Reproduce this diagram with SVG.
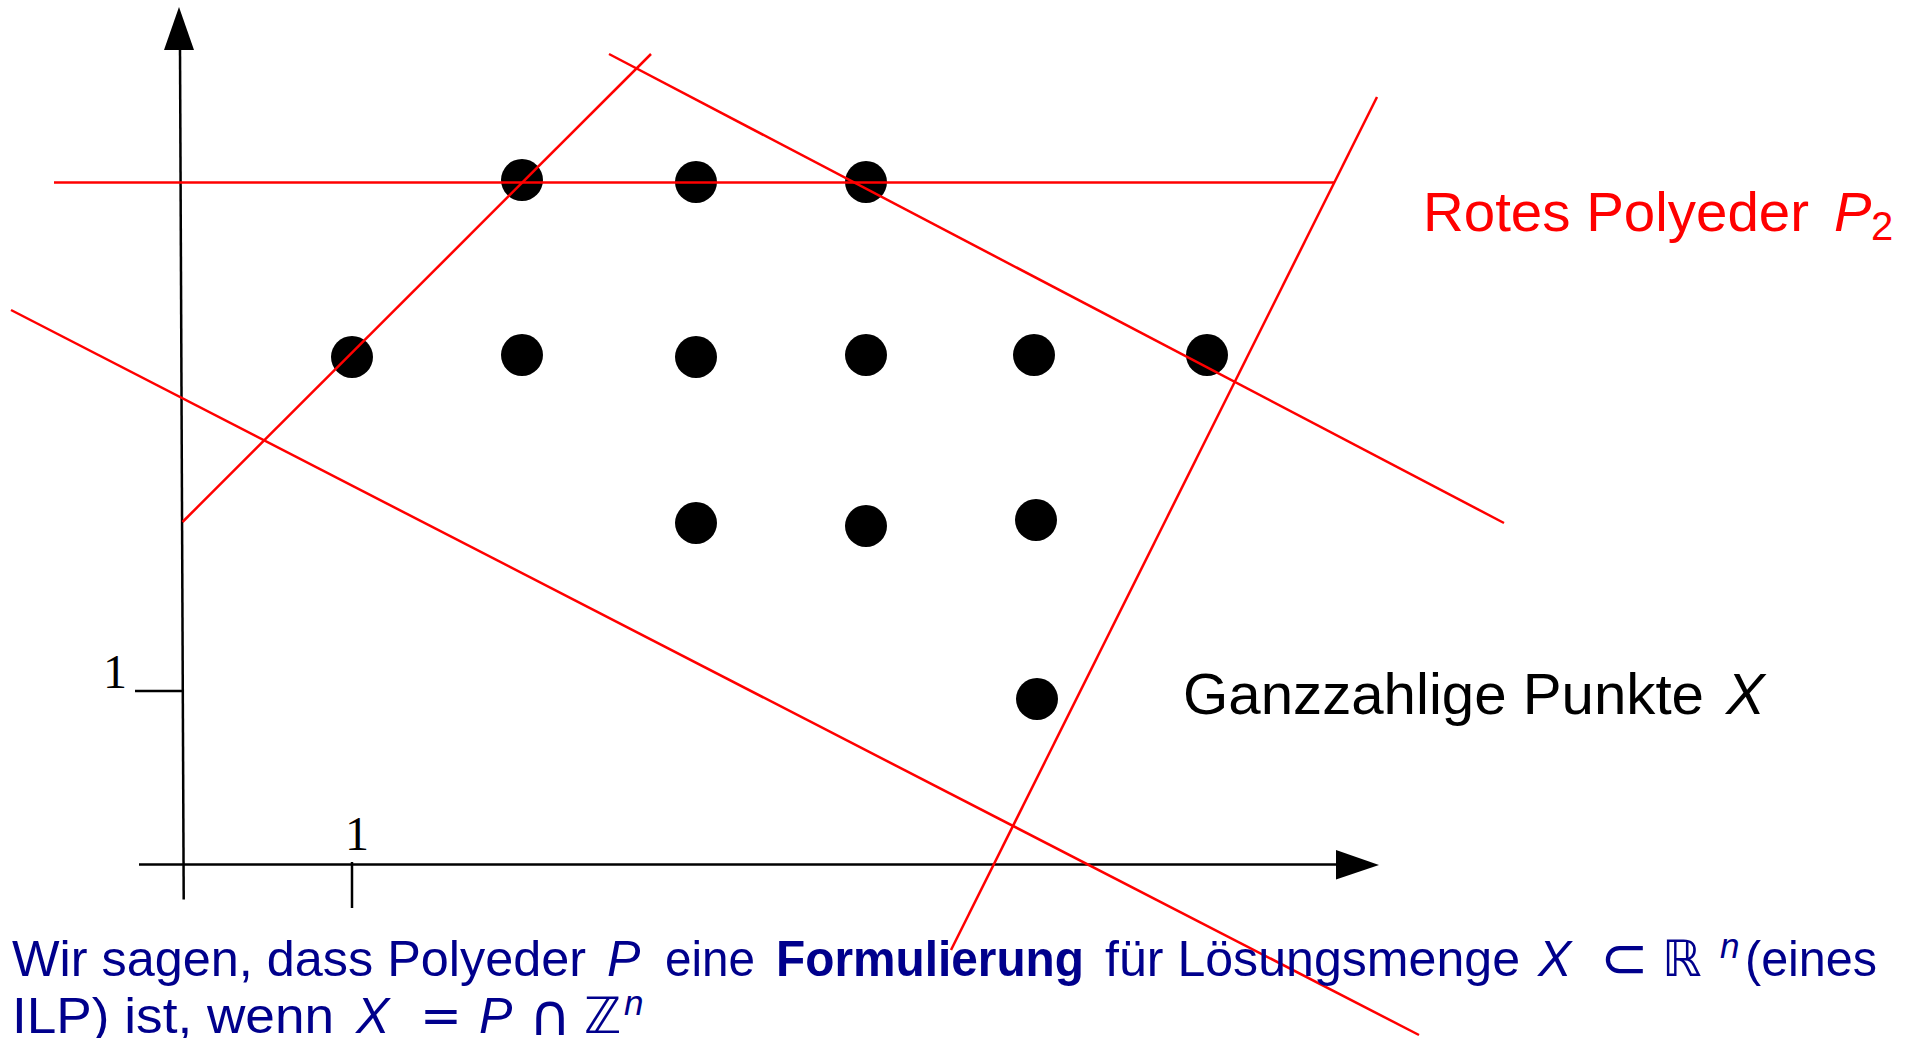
<svg xmlns="http://www.w3.org/2000/svg" width="1917" height="1038" viewBox="0 0 1917 1038">
<style>
.ax{stroke:#000;stroke-width:2.5;fill:none}
.rl{stroke:#ff0000;stroke-width:2.5;fill:none}
.dot{fill:#000}
.num{font-family:"Liberation Serif",serif;font-size:48px;fill:#000;text-anchor:middle}
.lab{font-family:"Liberation Sans",Arial,sans-serif}
.blue{font-family:"Liberation Sans",Arial,sans-serif;font-size:50px;fill:#00008c}
.it{font-style:italic}
.sym{font-family:"DejaVu Sans",sans-serif}
.sup{font-size:35px}
.big{font-size:58px}
</style>
<rect width="1917" height="1038" fill="#fff"/>
<g id="axes">
  <line class="ax" x1="180" y1="48" x2="183.7" y2="899.6"/>
  <polygon points="179,7 194,50 164,50" fill="#000"/>
  <line class="ax" x1="139" y1="864.6" x2="1338" y2="864.6"/>
  <polygon points="1379,865 1336,850 1336,879.5" fill="#000"/>
  <line class="ax" x1="135" y1="691" x2="183" y2="691"/>
  <line class="ax" x1="352" y1="862" x2="352" y2="908"/>
  <text class="num" x="115" y="688">1</text>
  <text class="num" x="357" y="850">1</text>
</g>
<g id="points">
  <circle class="dot" cx="522" cy="180" r="21"/>
  <circle class="dot" cx="696" cy="182" r="21"/>
  <circle class="dot" cx="866" cy="182" r="21"/>
  <circle class="dot" cx="352" cy="357" r="21"/>
  <circle class="dot" cx="522" cy="355" r="21"/>
  <circle class="dot" cx="696" cy="357" r="21"/>
  <circle class="dot" cx="866" cy="355" r="21"/>
  <circle class="dot" cx="1034" cy="355" r="21"/>
  <circle class="dot" cx="1207" cy="355" r="21"/>
  <circle class="dot" cx="696" cy="523" r="21"/>
  <circle class="dot" cx="866" cy="526" r="21"/>
  <circle class="dot" cx="1036" cy="520" r="21"/>
  <circle class="dot" cx="1037" cy="699" r="21"/>
</g>
<g id="red-lines">
  <line class="rl" x1="54" y1="182.5" x2="1335" y2="182.5"/>
  <line class="rl" x1="182.5" y1="522" x2="651" y2="54"/>
  <line class="rl" x1="609" y1="54" x2="1504" y2="523"/>
  <line class="rl" x1="11" y1="310" x2="1419" y2="1035"/>
  <line class="rl" x1="1377" y1="97" x2="951" y2="950"/>
</g>
<g id="label-red" fill="#ff0000">
  <text class="lab" x="1423" y="231" font-size="56" textLength="386" lengthAdjust="spacingAndGlyphs">Rotes Polyeder</text>
  <text class="lab it" x="1834" y="231" font-size="56">P</text>
  <text class="lab" x="1871" y="240" font-size="40">2</text>
</g>
<g id="label-black" fill="#000">
  <text class="lab" x="1183" y="714" font-size="58" textLength="521" lengthAdjust="spacingAndGlyphs">Ganzzahlige Punkte</text>
  <text class="lab it" x="1726" y="714" font-size="58">X</text>
</g>
<g id="caption">
  <text class="blue" x="12" y="976" textLength="574" lengthAdjust="spacingAndGlyphs">Wir sagen, dass Polyeder</text>
  <text class="blue it" x="607" y="976">P</text>
  <text class="blue" x="665" y="976" textLength="90" lengthAdjust="spacingAndGlyphs">eine</text>
  <text class="blue" x="776" y="976" font-weight="bold" textLength="308" lengthAdjust="spacingAndGlyphs">Formulierung</text>
  <text class="blue" x="1105" y="976" textLength="415" lengthAdjust="spacingAndGlyphs">für Lösungsmenge</text>
  <text class="blue it" x="1538" y="976">X</text>
  <text class="blue sym big" x="1600" y="978">⊂</text>
  <text class="blue sym" x="1662" y="976">ℝ</text>
  <text class="blue it sup" x="1720" y="958">n</text>
  <text class="blue" x="1745" y="976" textLength="132" lengthAdjust="spacingAndGlyphs">(eines</text>
  <text class="blue" x="12" y="1033" textLength="322" lengthAdjust="spacingAndGlyphs">ILP) ist, wenn</text>
  <text class="blue it" x="356" y="1033">X</text>
  <text class="blue sym" x="420" y="1033">=</text>
  <text class="blue it" x="479" y="1033">P</text>
  <text class="blue sym big" x="529" y="1035">∩</text>
  <text class="blue sym" x="584" y="1033">ℤ</text>
  <text class="blue it sup" x="624" y="1015">n</text>
</g>
</svg>
